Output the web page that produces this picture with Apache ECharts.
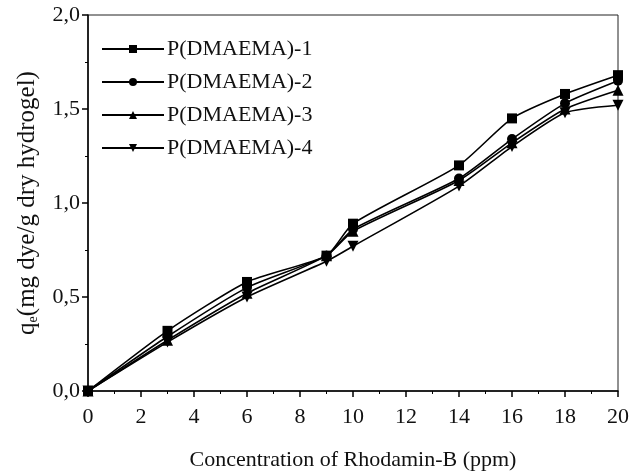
<!DOCTYPE html>
<html><head><meta charset="utf-8">
<script src="https://cdn.jsdelivr.net/npm/echarts@6/dist/echarts.min.js"></script>
<style>html,body{margin:0;padding:0;background:#fff}#c{width:640px;height:476px}</style>
</head><body><div id="c"></div>
<script>
const xValues = [0, 3, 6, 9, 10, 14, 16, 18, 20];
const seriesNames = ['P(DMAEMA)-1', 'P(DMAEMA)-2', 'P(DMAEMA)-3', 'P(DMAEMA)-4'];
const s1 = [0, 0.32, 0.58, 0.72, 0.89, 1.20, 1.45, 1.58, 1.68];
const s2 = [0, 0.29, 0.55, 0.72, 0.86, 1.13, 1.34, 1.53, 1.65];
const s3 = [0, 0.27, 0.52, 0.72, 0.85, 1.12, 1.32, 1.50, 1.60];
const s4 = [0, 0.26, 0.50, 0.69, 0.77, 1.09, 1.30, 1.48, 1.52];
const xTicks = [0, 2, 4, 6, 8, 10, 12, 14, 16, 18, 20];
const yTicks = [0, 0.5, 1.0, 1.5, 2.0];

const symbols = ['rect', 'circle', 'triangle', 'triangle'];
const rotates = [0, 0, 0, 180];
const sizes = [10, 10, 11, 11];
const data = [s1, s2, s3, s4];
const FONT = '"Liberation Serif", "Times New Roman", serif';

const chart = echarts.init(document.getElementById('c'));
chart.setOption({
  animation: false,
  textStyle: { fontFamily: FONT },
  grid: { left: 88, right: 22, top: 15, bottom: 81, show: true, borderColor: '#222', borderWidth: 1 },
  legend: {
    left: 96, top: 33, orient: 'vertical', itemGap: 11,
    itemWidth: 62, itemHeight: 10,
    textStyle: { fontFamily: FONT, fontSize: 22, color: '#111', padding: [0, 0, 0, -2] },
    data: seriesNames
  },
  xAxis: {
    type: 'value', min: xTicks[0], max: xTicks[xTicks.length - 1], interval: 2,
    name: 'Concentration of Rhodamin-B (ppm)', nameLocation: 'middle', nameGap: 58,
    nameTextStyle: { fontFamily: FONT, fontSize: 22, color: '#111' },
    axisLine: { onZero: false, lineStyle: { color: '#000', width: 1.5 } },
    axisTick: { inside: false, length: 6, lineStyle: { color: '#000', width: 1.5 } },
    minorTick: { show: true, splitNumber: 2, length: 3, lineStyle: { color: '#000' } },
    axisLabel: { fontFamily: FONT, fontSize: 22, color: '#111', margin: 15 },
    splitLine: { show: false }
  },
  yAxis: {
    type: 'value', min: yTicks[0], max: yTicks[yTicks.length - 1], interval: 0.5,
    name: '{q|q}{e|e}{q|(mg dye/g dry hydrogel)}', nameLocation: 'middle', nameGap: 48, nameRotate: 90,
    nameTextStyle: { fontFamily: FONT, fontSize: 25, color: '#111',
      rich: { q: { fontFamily: FONT, fontSize: 25, color: '#111' },
              e: { fontFamily: FONT, fontSize: 14, color: '#111', verticalAlign: 'bottom', padding: [10, 0, 0, 0] } } },
    axisLine: { onZero: false, lineStyle: { color: '#000', width: 1.5 } },
    axisTick: { inside: false, length: 6, lineStyle: { color: '#000', width: 1.5 } },
    minorTick: { show: true, splitNumber: 2, length: 3, lineStyle: { color: '#000' } },
    axisLabel: { fontFamily: FONT, fontSize: 22, color: '#111', margin: 8,
      formatter: v => v.toFixed(1).replace('.', ',') },
    splitLine: { show: false }
  },
  series: seriesNames.map((n, i) => ({
    name: n, type: 'line', smooth: 0.2,
    data: xValues.map((x, j) => [x, data[i][j]]),
    symbol: symbols[i], symbolRotate: rotates[i], symbolSize: sizes[i],
    showSymbol: true,
    lineStyle: { color: '#000', width: 1.6 },
    itemStyle: { color: '#000' },
    z: 10 - i
  }))
});
</script></body></html>
